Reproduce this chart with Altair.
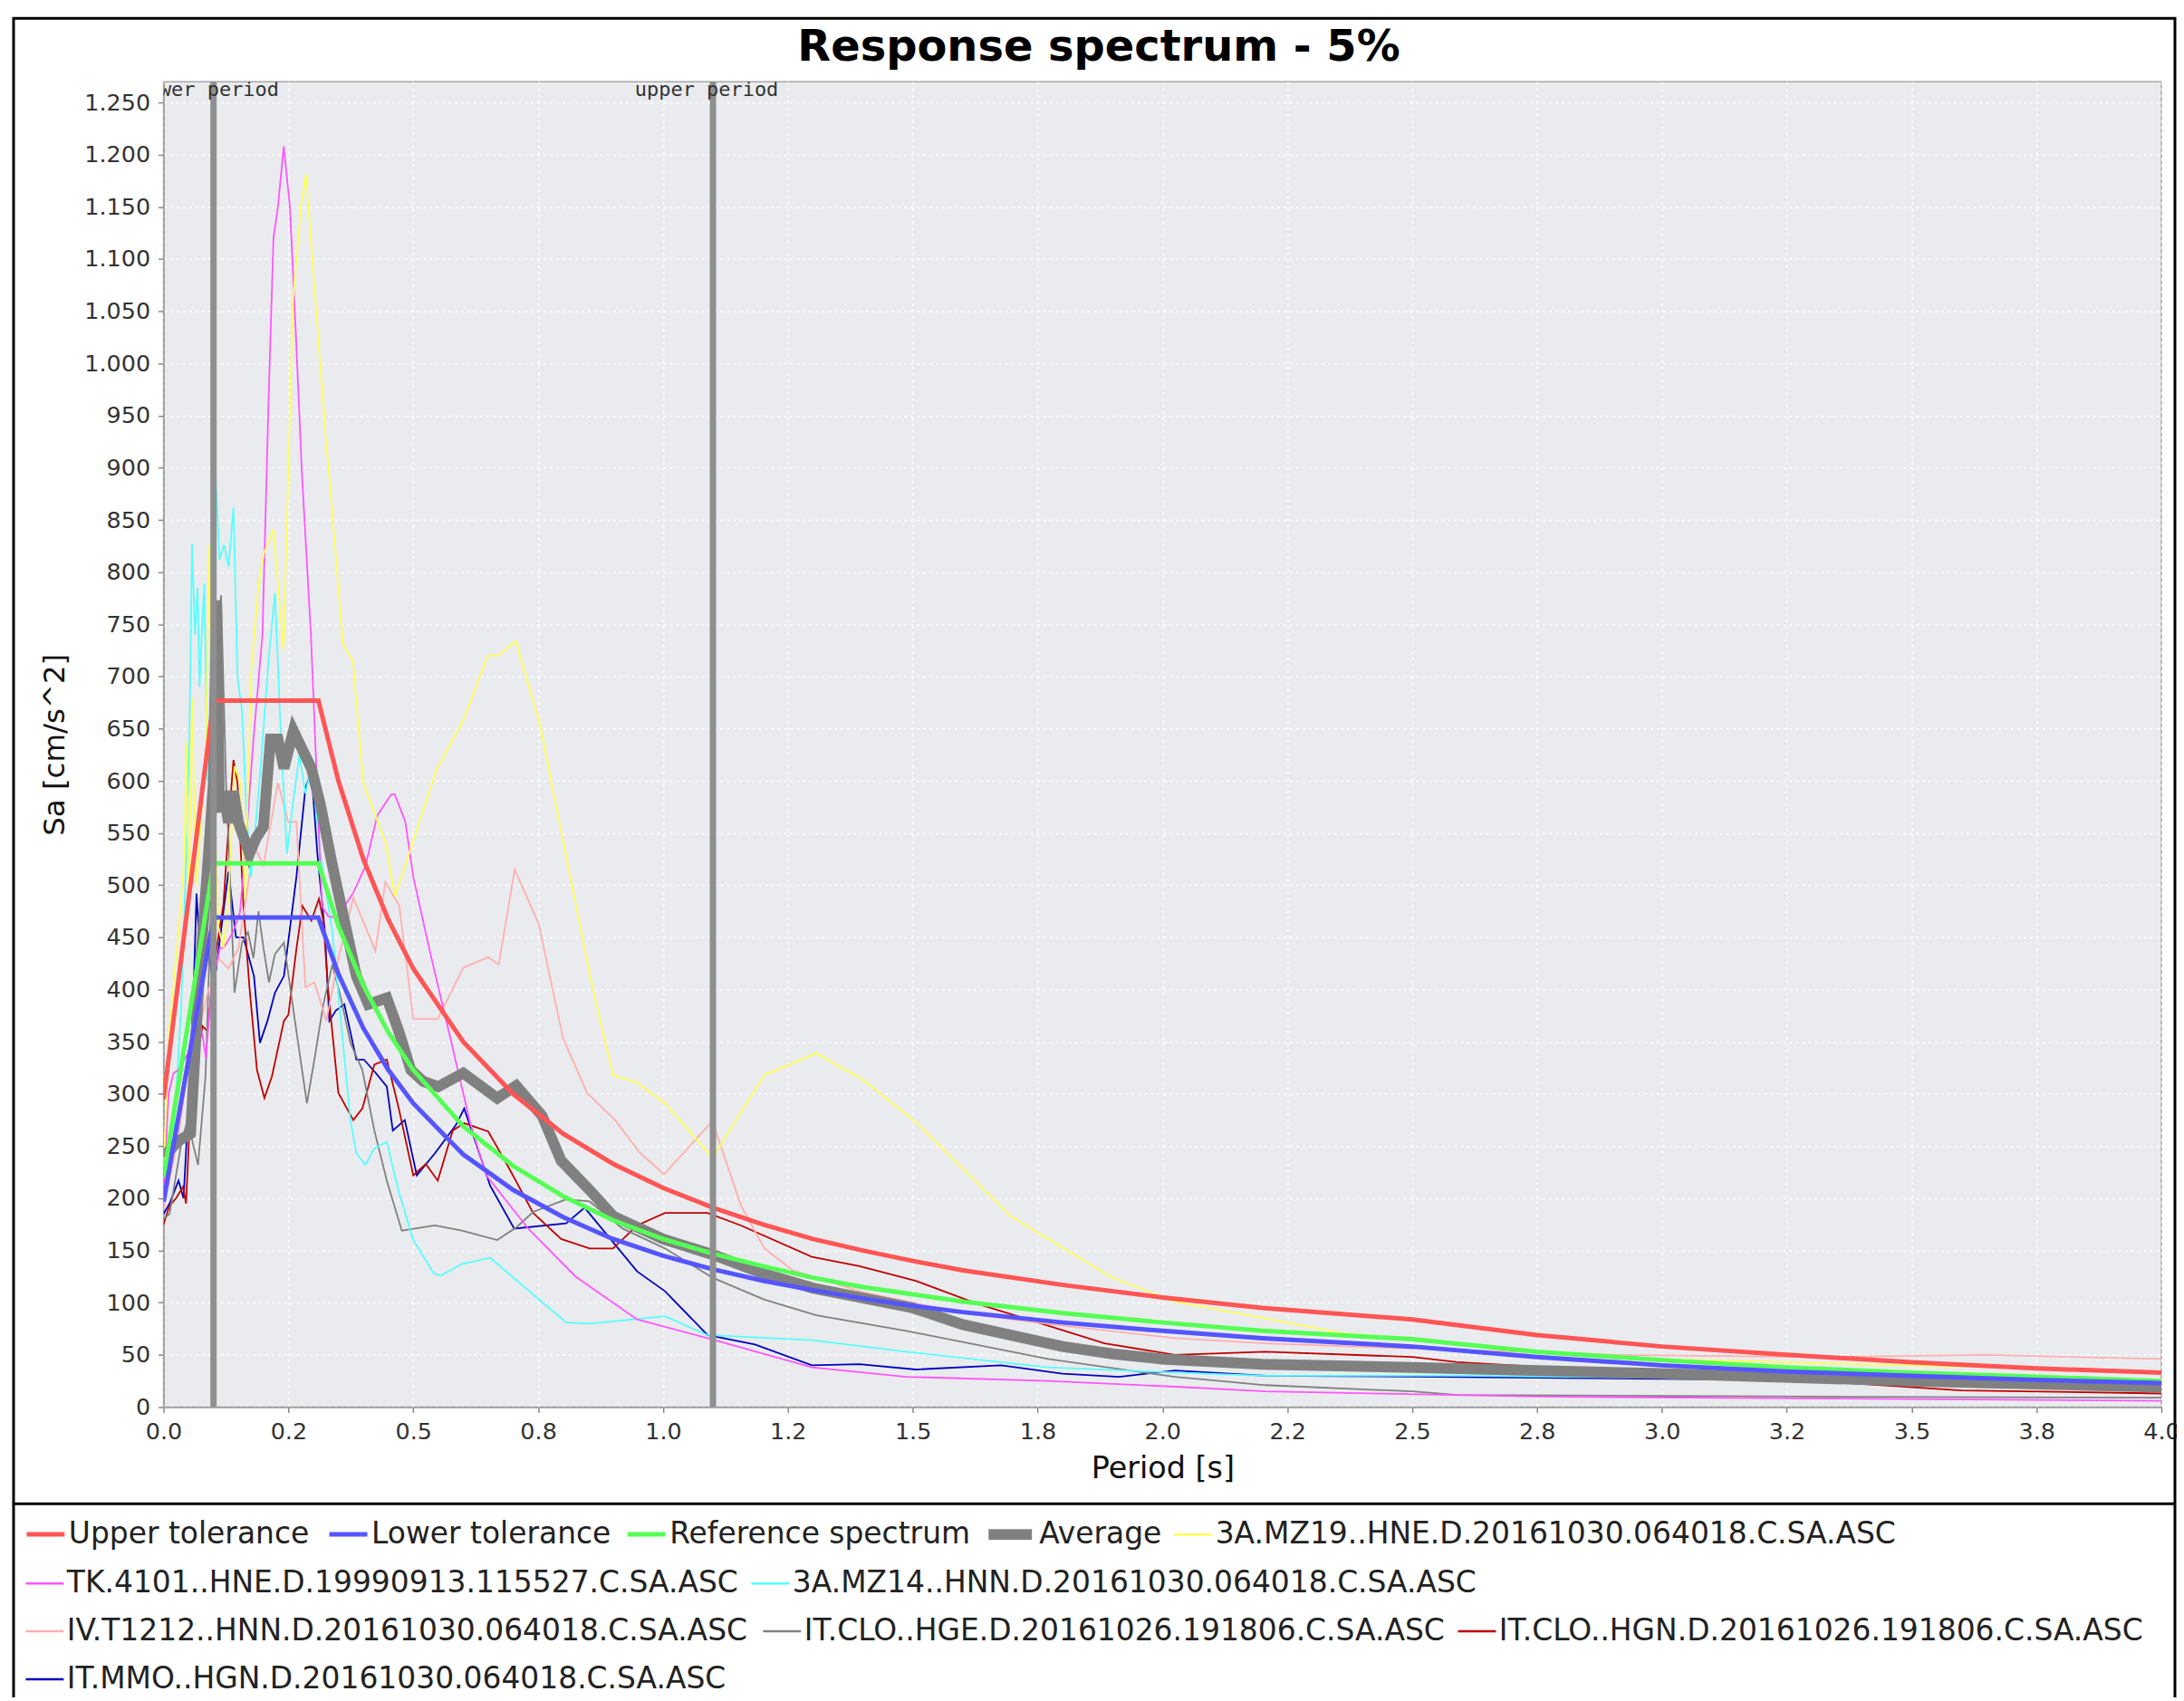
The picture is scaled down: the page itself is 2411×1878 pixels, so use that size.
import json
import altair as alt
import pandas as pd

FONT = "DejaVu Sans"

# ---------------- axis ticks ----------------
x_tick_values = [0.0, 0.25, 0.5, 0.75, 1.0, 1.25, 1.5, 1.75, 2.0, 2.25, 2.5, 2.75, 3.0, 3.25, 3.5, 3.75, 4.0]
x_tick_labels = ["0.0", "0.2", "0.5", "0.8", "1.0", "1.2", "1.5", "1.8", "2.0", "2.2", "2.5", "2.8",
                 "3.0", "3.2", "3.5", "3.8", "4.0"]
y_tick_values = [0, 50, 100, 150, 200, 250, 300, 350, 400, 450, 500, 550, 600, 650, 700, 750, 800,
                 850, 900, 950, 1000, 1050, 1100, 1150, 1200, 1250]
y_tick_labels = ["0", "50", "100", "150", "200", "250", "300", "350", "400", "450", "500", "550", "600",
                 "650", "700", "750", "800", "850", "900", "950", "1.000", "1.050", "1.100", "1.150",
                 "1.200", "1.250"]

# ---------------- code spectra ----------------
code_period = [0.0, 0.1, 0.31, 0.35, 0.4, 0.45, 0.5, 0.6, 0.7, 0.8, 0.9, 1.0, 1.1, 1.2, 1.3, 1.4, 1.5,
               1.6, 1.8, 2.0, 2.2, 2.5, 2.75, 3.0, 3.25, 3.5, 3.75, 4.0]
upper_sa = [295, 677, 677, 600, 525, 467, 420, 350, 300, 262, 233, 210, 191, 175, 161, 150, 140, 131,
            117, 105, 95, 84, 69, 58, 50, 43, 37, 33]
lower_sa = [197, 469, 469, 415, 363, 323, 291, 242, 208, 182, 161, 145, 132, 121, 112, 104, 97, 91,
            81, 73, 66, 58, 48, 40, 34, 30, 26, 23]
reference_sa = [220, 521, 521, 461, 404, 359, 323, 269, 231, 202, 179, 161, 147, 135, 124, 115, 108,
                101, 90, 81, 73, 65, 53, 45, 38, 33, 29, 25]

# ---------------- average (period, Sa) ----------------
average_pts = [(0, 240), (0.03, 255), (0.054, 262), (0.07, 400), (0.09, 530), (0.1, 600), (0.106, 773),
               (0.112, 570), (0.12, 590), (0.13, 560), (0.14, 590), (0.15, 560), (0.172, 530),
               (0.185, 545), (0.2, 556), (0.214, 640), (0.229, 640), (0.241, 612), (0.26, 648),
               (0.278, 630), (0.296, 612), (0.314, 577), (0.338, 519), (0.362, 466), (0.386, 413),
               (0.41, 386), (0.447, 392), (0.471, 360), (0.495, 323), (0.52, 312), (0.55, 307),
               (0.6, 320), (0.668, 296), (0.706, 308), (0.758, 279), (0.796, 236), (0.853, 208),
               (0.9, 183), (1.0, 161), (1.1, 146), (1.2, 128), (1.3, 114), (1.5, 95), (1.6, 79),
               (1.8, 58), (1.9, 51), (2.0, 46), (2.2, 41), (2.5, 38), (3.0, 32), (3.5, 25), (4.0, 19)]

# ---------------- records (period, Sa) ----------------
mz19_pts = [(0, 230), (0.012, 365), (0.03, 455), (0.042, 530), (0.046, 637), (0.05, 470), (0.057, 680),
            (0.065, 500), (0.075, 560), (0.085, 640), (0.091, 826), (0.1, 600), (0.11, 460), (0.12, 440),
            (0.13, 490), (0.142, 614), (0.154, 598), (0.163, 487), (0.175, 700), (0.19, 789),
            (0.201, 818), (0.22, 841), (0.24, 725), (0.259, 1060), (0.275, 1150), (0.285, 1181),
            (0.304, 1060), (0.325, 928), (0.337, 862), (0.359, 731), (0.379, 715), (0.4, 598),
            (0.445, 540), (0.463, 489), (0.497, 538), (0.546, 610), (0.601, 659), (0.649, 720),
            (0.67, 720), (0.705, 734), (0.754, 653), (0.808, 523), (0.856, 408), (0.9, 318),
            (0.948, 311), (1.004, 291), (1.099, 239), (1.203, 318), (1.307, 339), (1.402, 313),
            (1.506, 273), (1.696, 183), (1.895, 125), (2.025, 101), (2.206, 85), (2.358, 71),
            (2.91, 47), (3.49, 40), (4.0, 34)]
tk4101_pts = [(0, 205), (0.01, 300), (0.02, 320), (0.03, 323), (0.05, 340), (0.065, 380), (0.078, 356),
              (0.085, 334), (0.095, 400), (0.113, 440), (0.12, 440), (0.139, 455), (0.153, 474),
              (0.163, 529), (0.18, 640), (0.198, 740), (0.21, 961), (0.22, 1120), (0.229, 1150),
              (0.2406, 1208), (0.253, 1150), (0.265, 1027), (0.277, 895), (0.295, 740), (0.3, 682),
              (0.317, 480), (0.33, 470), (0.347, 469), (0.379, 492), (0.404, 518), (0.428, 567),
              (0.456, 587), (0.463, 587), (0.484, 561), (0.5, 508), (0.533, 437), (0.573, 356),
              (0.614, 272), (0.646, 222), (0.73, 171), (0.825, 125), (0.948, 84), (1.089, 66),
              (1.298, 38), (1.487, 29), (1.771, 25), (2.025, 19.5), (2.206, 15), (2.75, 10), (4.0, 6)]
mz14_pts = [(0, 200), (0.02, 260), (0.035, 380), (0.045, 520), (0.052, 650), (0.057, 827), (0.063, 740),
            (0.068, 785), (0.072, 690), (0.078, 757), (0.0817, 789), (0.088, 600), (0.095, 700),
            (0.103, 905), (0.112, 812), (0.121, 826), (0.13, 805), (0.14, 862), (0.148, 700),
            (0.157, 667), (0.166, 572), (0.175, 508), (0.193, 604), (0.211, 720), (0.223, 780),
            (0.235, 641), (0.247, 530), (0.26, 582), (0.272, 625), (0.284, 588), (0.296, 614),
            (0.314, 530), (0.338, 455), (0.356, 365), (0.374, 275), (0.386, 243), (0.404, 232),
            (0.422, 248), (0.447, 254), (0.471, 206), (0.5, 160), (0.541, 128), (0.555, 126),
            (0.597, 137), (0.654, 143), (0.806, 81), (0.853, 80), (1.004, 87), (1.089, 69),
            (1.298, 64), (1.487, 53), (1.771, 38), (2.025, 33), (2.206, 30), (2.6, 30), (3.0, 28),
            (3.5, 25), (4.0, 22)]
t1212_pts = [(0, 190), (0.03, 260), (0.05, 330), (0.07, 360), (0.09, 400), (0.11, 430), (0.13, 420),
             (0.15, 440), (0.181, 538), (0.2, 519), (0.229, 598), (0.25, 560), (0.266, 561),
             (0.284, 402), (0.302, 407), (0.326, 370), (0.35, 430), (0.38, 488), (0.4, 465),
             (0.424, 437), (0.444, 503), (0.472, 480), (0.5, 372), (0.549, 372), (0.6, 421),
             (0.65, 431), (0.671, 424), (0.703, 515), (0.751, 463), (0.8, 353), (0.848, 301),
             (0.904, 275), (0.953, 244), (1.002, 223), (1.099, 274), (1.156, 193), (1.203, 152),
             (1.26, 131), (1.4, 110), (1.6, 90), (1.8, 78), (2.025, 66), (2.206, 61), (2.5, 56),
             (2.91, 50), (3.3, 48), (3.65, 50), (4.0, 46)]
clo_hge_pts = [(0, 180), (0.012, 185), (0.036, 254), (0.048, 275), (0.06, 250), (0.069, 232),
               (0.084, 317), (0.095, 480), (0.105, 700), (0.115, 778), (0.125, 600), (0.133, 508),
               (0.142, 397), (0.157, 445), (0.169, 455), (0.18, 430), (0.19, 475), (0.2, 440),
               (0.211, 407), (0.223, 434), (0.241, 445), (0.26, 380), (0.287, 291), (0.302, 333),
               (0.32, 386), (0.338, 424), (0.356, 390), (0.374, 349), (0.398, 323), (0.422, 265),
               (0.447, 217), (0.477, 169), (0.543, 174), (0.597, 169), (0.668, 160), (0.706, 172),
               (0.74, 187), (0.806, 199), (0.853, 197), (0.919, 171), (1.004, 152), (1.099, 124),
               (1.203, 103), (1.307, 88), (1.487, 73), (1.771, 46), (2.025, 29), (2.206, 21),
               (2.5, 15), (2.59, 11.5), (3.3, 10), (4.0, 9)]
clo_hgn_pts = [(0, 175), (0.012, 193), (0.025, 200), (0.039, 211), (0.045, 195), (0.055, 300),
               (0.065, 330), (0.078, 365), (0.088, 360), (0.1, 420), (0.12, 482), (0.133, 577),
               (0.14, 620), (0.148, 598), (0.16, 480), (0.172, 402), (0.187, 323), (0.202, 296),
               (0.217, 317), (0.241, 370), (0.25, 376), (0.266, 439), (0.278, 480), (0.296, 466),
               (0.311, 487), (0.32, 466), (0.329, 402), (0.35, 301), (0.38, 275), (0.398, 286),
               (0.422, 328), (0.447, 333), (0.471, 286), (0.5, 222), (0.525, 233), (0.549, 217),
               (0.579, 265), (0.602, 272), (0.65, 264), (0.687, 233), (0.74, 186), (0.796, 161),
               (0.853, 152), (0.9, 152), (0.948, 174), (1.004, 186), (1.089, 186), (1.156, 174),
               (1.298, 144), (1.393, 135), (1.506, 121), (1.629, 99), (1.771, 78), (1.884, 61),
               (2.025, 50), (2.206, 53), (2.5, 48), (2.59, 43), (3.0, 32), (3.37, 23), (3.6, 16),
               (4.0, 13)]
mmo_hgn_pts = [(0, 185), (0.012, 195), (0.03, 217), (0.04, 200), (0.05, 290), (0.06, 397), (0.066, 492),
               (0.075, 420), (0.09, 439), (0.1, 400), (0.112, 445), (0.13, 513), (0.145, 450),
               (0.16, 450), (0.181, 413), (0.193, 349), (0.208, 370), (0.223, 397), (0.241, 413),
               (0.266, 508), (0.284, 593), (0.296, 609), (0.308, 530), (0.323, 455), (0.332, 370),
               (0.345, 380), (0.362, 386), (0.386, 333), (0.401, 333), (0.425, 320), (0.447, 307),
               (0.459, 265), (0.483, 275), (0.507, 222), (0.543, 243), (0.585, 270), (0.602, 286),
               (0.654, 212), (0.702, 171), (0.806, 176), (0.843, 191), (0.948, 130), (1.004, 111),
               (1.089, 69), (1.184, 60), (1.298, 40), (1.393, 41), (1.506, 36), (1.677, 40),
               (1.8, 32), (1.913, 29), (2.025, 35), (2.206, 30), (2.56, 29), (3.0, 27), (3.5, 25),
               (4.0, 24)]

# ---------------- period markers ----------------
marker_period = [0.1, 1.1]
marker_label = ["lower period", "upper period"]

chart_title = "Response spectrum - 5%"

# ---------------- layout (page pixels) ----------------
PLOT_LEFT, PLOT_TOP = 181, 88
W, H = 2211, 1467
ROW_Y = [1696, 1750, 1803, 1856]
LEGEND_FONT_SIZE = 33

# series drawn bottom -> top; (name, points, colour, line width, legend x, legend row, symbol length)
series = [
    ("IT.MMO..HGN.D.20161030.064018.C.SA.ASC", mmo_hgn_pts, "#0000C0", 1.8, 27, 3, 42),
    ("IT.CLO..HGN.D.20161026.191806.C.SA.ASC", clo_hgn_pts, "#C00000", 1.8, 1612, 2, 42),
    ("IT.CLO..HGE.D.20161026.191806.C.SA.ASC", clo_hge_pts, "#808080", 1.8, 843, 2, 42),
    ("IV.T1212..HNN.D.20161030.064018.C.SA.ASC", t1212_pts, "#FFAFAF", 1.8, 27, 2, 42),
    ("3A.MZ14..HNN.D.20161030.064018.C.SA.ASC", mz14_pts, "#55FFFF", 1.8, 830, 1, 42),
    ("TK.4101..HNE.D.19990913.115527.C.SA.ASC", tk4101_pts, "#FF55FF", 1.8, 27, 1, 42),
    ("3A.MZ19..HNE.D.20161030.064018.C.SA.ASC", mz19_pts, "#FFFF55", 1.8, 1298, 0, 42),
    ("Average", average_pts, "#808080", 12, 1088, 0, 48),
    ("Reference spectrum", list(zip(code_period, reference_sa)), "#55FF55", 5, 692, 0, 42),
    ("Lower tolerance", list(zip(code_period, lower_sa)), "#5555FF", 5, 362, 0, 42),
    ("Upper tolerance", list(zip(code_period, upper_sa)), "#FF5555", 5, 27, 0, 42),
]

x_axis = alt.Axis(values=x_tick_values,
                  labelExpr=f"{json.dumps(x_tick_labels)}[round(datum.value * 4)]",
                  title="Period [s]", titleFont=FONT, titleFontSize=33.5, titleFontWeight="normal",
                  titleColor="#111111", titleY=78, titleBaseline="alphabetic",
                  labelFont=FONT, labelFontSize=25.5, labelColor="#333333", labelPadding=9,
                  labelFlush=False, labelOverlap=False,
                  tickSize=6, tickColor="#888888", tickWidth=1.5,
                  domainColor="#999999", domainWidth=1.5,
                  grid=True, gridColor="#FFFFFF", gridDash=[3, 4], gridWidth=1.5)
y_axis = alt.Axis(values=y_tick_values,
                  labelExpr=f"{json.dumps(y_tick_labels)}[round(datum.value / 50)]",
                  title="Sa [cm/s^2]", titleFont=FONT, titleFontSize=32.5, titleFontWeight="normal",
                  titleColor="#111111", titleX=-120, titleY=H / 2, titleAngle=270,
                  titleBaseline="middle", titleAlign="center",
                  labelFont=FONT, labelFontSize=25.5, labelColor="#333333", labelPadding=9,
                  labelOverlap=False,
                  tickSize=6, tickColor="#888888", tickWidth=1.5,
                  domainColor="#999999", domainWidth=1.5,
                  grid=True, gridColor="#FFFFFF", gridDash=[3, 4], gridWidth=1.5)

x_enc = alt.X("period:Q", scale=alt.Scale(domain=[0, 4], nice=False, zero=False), axis=x_axis)
y_enc = alt.Y("sa:Q", scale=alt.Scale(domain=[0, 1270], nice=False), axis=y_axis)

layers = []
for name, pts, colour, width, lx, row, symlen in series:
    df = pd.DataFrame({"period": [p[0] for p in pts], "sa": [p[1] for p in pts], "series": name})
    sym_w = width if width > 2 else 2.5
    legend = alt.Legend(orient="none", legendX=lx - PLOT_LEFT,
                        legendY=ROW_Y[row] - PLOT_TOP - (symlen + sym_w) / 2,
                        title=None, symbolType="stroke", symbolSize=symlen * symlen,
                        symbolStrokeWidth=sym_w,
                        labelFont=FONT, labelFontSize=LEGEND_FONT_SIZE, labelColor="#222222",
                        labelLimit=3000, labelOffset=2, padding=0, offset=0)
    layers.append(
        alt.Chart(df).mark_line(strokeWidth=width, clip=True).encode(
            x=x_enc, y=y_enc,
            color=alt.Color("series:N", scale=alt.Scale(domain=[name], range=[colour]), legend=legend),
        )
    )

markers = pd.DataFrame({"period": marker_period, "label": marker_label})
rules = alt.Chart(markers).mark_rule(color="#8F8F8F", strokeWidth=7).encode(x=alt.X("period:Q"))
marker_text = alt.Chart(markers).mark_text(baseline="alphabetic", align="center", fontSize=22,
                                           font="DejaVu Sans Mono", color="#333333", clip=True,
                                           dx=-7).encode(
    x=alt.X("period:Q"), y=alt.value(16), text="label:N")

deco = pd.DataFrame({"k": [0], "title": [chart_title]})
title_text = alt.Chart(deco).mark_text(font=FONT, fontSize=48, fontWeight="bold", color="black",
                                       align="center", baseline="alphabetic", clip=False).encode(
    x=alt.value(1216 - PLOT_LEFT), y=alt.value(65 - PLOT_TOP), text="title:N")
outer = alt.Chart(deco).mark_rect(fill="transparent", stroke="black", strokeWidth=3, clip=False).encode(
    x=alt.value(15 - PLOT_LEFT), x2=alt.value(2407 - PLOT_LEFT),
    y=alt.value(18 - PLOT_TOP), y2=alt.value(1900 - PLOT_TOP))
legend_top = alt.Chart(deco).mark_rule(color="black", strokeWidth=3, clip=False).encode(
    x=alt.value(15 - PLOT_LEFT), x2=alt.value(2407 - PLOT_LEFT), y=alt.value(1662 - PLOT_TOP))

chart = alt.layer(*layers, rules, marker_text, title_text, outer, legend_top).resolve_scale(
    color="independent"
).properties(
    width=W, height=H,
    autosize=alt.AutoSizeParams(type="none"),
    padding={"left": PLOT_LEFT - 8, "top": PLOT_TOP - 8, "right": 17, "bottom": 319},
    background="white",
).configure_view(fill="#EAEBEE", stroke="#A8A8A8", strokeWidth=1.5)

chart.save("out.html", embed_options={"renderer": "svg", "actions": False})
